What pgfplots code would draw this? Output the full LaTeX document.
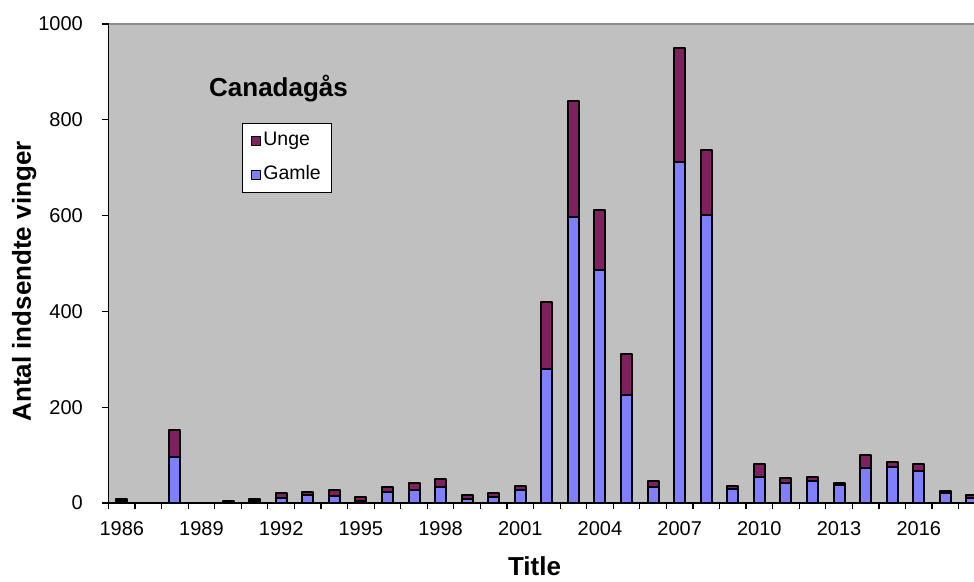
\documentclass[border=0pt]{standalone}
\usepackage{pgfplots}
\pgfplotsset{compat=1.18}
\usepackage{fontspec}
\setmainfont{Liberation Sans}
\definecolor{gamle}{HTML}{8080FF}
\definecolor{unge}{HTML}{802060}
\definecolor{bgray}{HTML}{C0C0C0}
\definecolor{lgray}{HTML}{8C8C8C}
\pgfplotstableread{
x gamle unge
0 4 5
2 95 58
4 2 2
5 4 4
6 11 10
7 16 8
8 15 13
9 5 8
10 22 11
11 27 14
12 34 17
13 8 8
14 12 8
15 28 8
16 279 141
17 597 243
18 486 126
19 225 87
20 34 12
21 712 238
22 601 136
23 30 5
24 55 27
25 41 12
26 46 8
27 38 3
28 73 27
29 75 10
30 66 16
31 21 4
32 11 5
}\datatable
\begin{document}
\begin{tikzpicture}
\useasboundingbox (0,0) rectangle (974pt,581pt);
\begin{axis}[
  at={(108.5pt,78pt)}, anchor=south west,
  width=865.5pt, height=479pt, scale only axis,
  xmin=-0.5, xmax=32.08, ymin=0, ymax=1000,
  ybar stacked, bar width=11pt,
  axis background/.style={fill=bgray},
  axis x line*=bottom, axis y line*=left,
  axis line style={-, black, line width=1.2pt},
  xtick={-0.5,0.5,...,31.5},
  x tick label as interval,
  xticklabels={1986,{},{},1989,{},{},1992,{},{},1995,{},{},1998,{},{},2001,{},{},2004,{},{},2007,{},{},2010,{},{},2013,{},{},2016},
  ytick={0,200,...,1000},
  tick align=outside,
  major tick length=6pt,
  every tick/.style={draw=black, line width=1.2pt},
  /pgf/number format/assume math mode=true,
  /pgf/number format/1000 sep={},
  xticklabel style={font=\fontsize{20}{24}\selectfont, anchor=base, inner sep=0pt, yshift=-26pt},
  yticklabel style={font=\fontsize{20}{24}\selectfont, anchor=east, inner sep=0pt, xshift=-19.5pt},
  reverse legend,
  legend image code/.code={\draw[#1, draw=black, line width=1.2pt] (0pt,-4.5pt) rectangle (9pt,4.5pt);},
  legend style={at={(0.1546,0.7933)}, anchor=north west, draw=black, line width=0.8pt, fill=white,
    font=\fontsize{19.5}{23}\selectfont, inner xsep=8pt, inner ysep=7pt, row sep=13pt,
    nodes={inner xsep=2.5pt, inner ysep=1.5pt, text height=14pt, text depth=4pt}},
  legend cell align=left,
  every axis plot/.append style={draw=black, line width=2pt, line join=round},
]
\addplot[fill=gamle] table[x=x, y=gamle] {\datatable};
\addlegendentry{Gamle}
\addplot[fill=unge] table[x=x, y=unge] {\datatable};
\addlegendentry{Unge}
\draw[lgray, line width=1.5pt] (rel axis cs:0,1) -- (rel axis cs:1,1);
\end{axis}
\node[rotate=90, anchor=base, font=\bfseries\fontsize{26}{30}\selectfont] at (31pt,299.5pt) {Antal indsendte vinger};
\node[anchor=base, font=\bfseries\fontsize{26}{30}\selectfont] at (534.5pt,6pt) {Title};
\node[anchor=base, font=\bfseries\fontsize{26}{30}\selectfont] at (278.5pt,484.3pt) {Canadagås};
\end{tikzpicture}
\end{document}
